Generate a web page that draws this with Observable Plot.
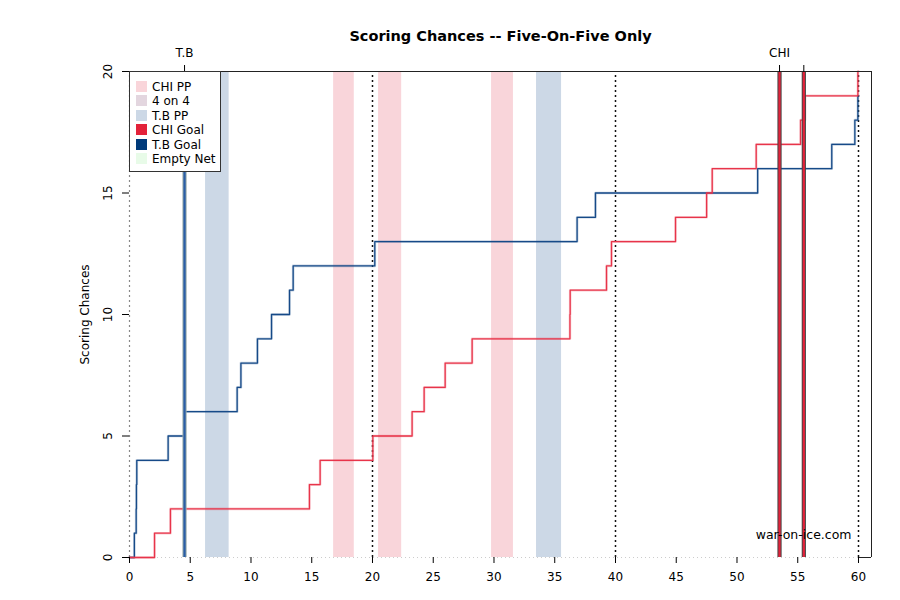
<!DOCTYPE html>
<html><head><meta charset="utf-8">
<script src="https://cdn.jsdelivr.net/npm/d3@7"></script>
<script src="https://cdn.jsdelivr.net/npm/@observablehq/plot@0.6"></script>
<style>
body{margin:0;background:#fff;font-family:"DejaVu Sans",sans-serif;}
#wrap{position:relative;width:900px;height:600px;}
#legend{position:absolute;left:129px;top:71px;width:90px;height:99px;border:1px solid #333;background:#fff;font-size:12px;}
#legend .it{position:absolute;left:6px;height:14px;line-height:14px;white-space:nowrap;}
#legend .sw{display:inline-block;width:11px;height:11px;vertical-align:-1px;margin-right:5px;}
</style></head>
<body><div id="wrap"><div id="legend"></div></div>
<script>
const title = "Scoring Chances -- Five-On-Five Only";
// T.B cumulative scoring chances (time in minutes, count)
const tbTimes = [0, 0.4, 0.55, 0.57, 0.6, 3.18, 4.53, 8.86, 9.17, 10.53, 11.69, 13.17, 13.47, 20.19, 36.84, 38.35, 51.7, 57.8, 59.7, 59.95, 60];
const tbCount = [0, 1, 2, 3, 4, 5, 6, 7, 8, 9, 10, 11, 12, 13, 14, 15, 16, 17, 18, 19, 19];
// CHI cumulative scoring chances
const chiTimes = [0, 2.06, 3.37, 14.81, 15.69, 20.03, 23.26, 24.25, 25.98, 28.2, 36.25, 36.27, 39.26, 39.67, 44.94, 47.5, 47.96, 51.58, 55.23, 55.6, 59.95, 60];
const chiCount = [0, 1, 2, 3, 4, 5, 6, 7, 8, 9, 10, 11, 12, 13, 14, 15, 16, 17, 18, 19, 20, 20];
// power plays
const ppTeam  = ["T.B", "CHI", "CHI", "CHI", "T.B"];
const ppStart = [6.26, 16.8, 20.5, 29.8, 33.5];
const ppEnd   = [8.2, 18.5, 22.4, 31.6, 35.56];
// goals
const goalTeam  = ["T.B", "CHI", "CHI"];
const goalTime  = [4.53, 53.5, 55.5];
const goalLabel = ["T.B", "CHI", ""];
const periodEnds = [20, 40, 60];
const xTicks = [0, 5, 10, 15, 20, 25, 30, 35, 40, 45, 50, 55, 60];
const yTicks = [0, 5, 10, 15, 20];
const xMax = 61.07;

const legendNames = ["CHI PP", "4 on 4", "T.B PP", "CHI Goal", "T.B Goal", "Empty Net"];
const legendColors = ["#f9d5da", "#e3d6df", "#ccd8e6", "#e3223a", "#003a7a", "#e8fbe8"];

const ppColor = {"CHI": "#f9d5da", "T.B": "#ccd8e6"};
const lineColor = {"CHI": "#e8344a", "T.B": "#164a88"};
const goalColor = {"CHI": "#e3223a", "T.B": "#2a5ea6"};
const goalEdge = {"CHI": "#444", "T.B": "#9aa"};

const tb = tbTimes.map((t, i) => ({t, c: tbCount[i]}));
const chi = chiTimes.map((t, i) => ({t, c: chiCount[i]}));
const pps = ppTeam.map((team, i) => ({team, x1: ppStart[i], x2: ppEnd[i]}));
const goals = goalTeam.map((team, i) => ({team, t: goalTime[i], label: goalLabel[i]}));

const chart = Plot.plot({
  width: 900, height: 600,
  marginLeft: 129, marginRight: 29, marginTop: 71, marginBottom: 43,
  style: {fontFamily: "DejaVu Sans, sans-serif", fontSize: "12px", background: "#fff", overflow: "visible"},
  x: {domain: [0, xMax]},
  y: {domain: [0, 20]},
  marks: [
    Plot.rectX(pps, {x1: "x1", x2: "x2", y1: 0, y2: 20, fill: d => ppColor[d.team]}),
    Plot.ruleY([0], {x1: 0, x2: 60, stroke: "#ccc", strokeDasharray: "1,3"}),
    Plot.ruleX([0], {y1: 0, y2: 20, stroke: "#888", strokeDasharray: "2,3", strokeWidth: 1.2}),
    Plot.ruleX(periodEnds, {y1: 0, y2: 20, stroke: "#111", strokeDasharray: "2,3", strokeWidth: 1.5}),
    Plot.line(tb, {x: "t", y: "c", curve: "step-after", stroke: lineColor["T.B"], strokeWidth: 2.6, strokeOpacity: 0.25}),
    Plot.line(tb, {x: "t", y: "c", curve: "step-after", stroke: lineColor["T.B"], strokeWidth: 1.3}),
    Plot.line(chi, {x: "t", y: "c", curve: "step-after", stroke: lineColor["CHI"], strokeWidth: 2.6, strokeOpacity: 0.25}),
    Plot.line(chi, {x: "t", y: "c", curve: "step-after", stroke: lineColor["CHI"], strokeWidth: 1.3}),
    Plot.ruleX(goals, {x: "t", y1: 0, y2: 20, stroke: d => goalEdge[d.team], strokeWidth: 4.2}),
    Plot.ruleX(goals, {x: "t", y1: 0, y2: 20, stroke: d => goalColor[d.team], strokeWidth: 2.2}),
    Plot.ruleY([20], {x1: 0, x2: xMax, stroke: "#222"}),
    Plot.ruleX([xMax], {y1: 0, y2: 20, stroke: "#222"}),
    Plot.ruleY([0], {x1: 60, x2: xMax, stroke: "#222"}),
    Plot.axisX({ticks: xTicks, tickSize: 6, tickPadding: 9, label: null, anchor: "bottom"}),
    Plot.axisX(goals.map(d => d.t), {anchor: "top", ticks: goalTime, tickFormat: (d, i) => goalLabel[i], tickSize: 7, tickPadding: 8, label: null}),
    Plot.axisY({ticks: yTicks, tickSize: 7, tickFormat: () => "", label: null}),
    Plot.axisY({ticks: yTicks, tickSize: 0, tickRotate: -90, dx: -9, label: "Scoring Chances", labelAnchor: "center", labelArrow: "none", labelOffset: 49}),
    Plot.text([title], {frameAnchor: "top", dy: -35, lineAnchor: "middle", fontWeight: "bold", fontSize: 14.5, text: d => d}),
    Plot.text(["war-on-ice.com"], {frameAnchor: "bottom-right", dx: -20, dy: -19, textAnchor: "end", lineAnchor: "bottom", fontSize: 12.5, text: d => d})
  ]
});
document.getElementById("wrap").prepend(chart);

const lg = document.getElementById("legend");
legendNames.forEach((n, i) => {
  const d = document.createElement("div");
  d.className = "it";
  d.style.top = (8 + i * 14.4) + "px";
  d.innerHTML = `<span class="sw" style="background:${legendColors[i]}"></span>${n}`;
  lg.appendChild(d);
});
</script></body></html>
